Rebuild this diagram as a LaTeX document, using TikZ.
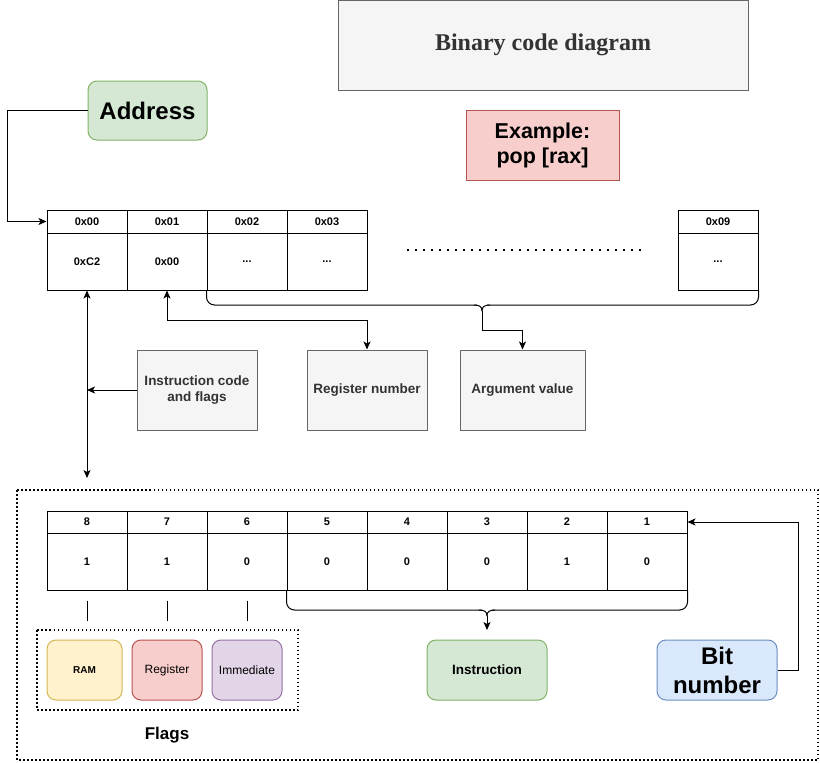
\documentclass[tikz,border=0pt]{standalone}
\usepackage{fontspec}
\setmainfont{Liberation Sans}
\newfontfamily\titlefont{Liberation Serif}
\usetikzlibrary{positioning,arrows.meta}

\definecolor{greyfill}{HTML}{F5F5F5}
\definecolor{greyline}{HTML}{666666}
\definecolor{greytext}{HTML}{333333}
\definecolor{redfill}{HTML}{F8CECC}
\definecolor{redline}{HTML}{B85450}
\definecolor{greenfill}{HTML}{D5E8D4}
\definecolor{greenline}{HTML}{82B366}
\definecolor{yellowfill}{HTML}{FFF2CC}
\definecolor{yellowline}{HTML}{D6B656}
\definecolor{purplefill}{HTML}{E1D5E7}
\definecolor{purpleline}{HTML}{9673A6}
\definecolor{bluefill}{HTML}{DAE8FC}
\definecolor{blueline}{HTML}{6C8EBF}
\newcommand\memdots{...}

\begin{document}
\begin{tikzpicture}[x=1pt, y=-1pt, line width=1pt,
    >={Stealth[length=8pt,width=7pt,inset=2pt]},
    every node/.style={inner sep=0pt, align=center},
    greybox/.style={draw=greyline, fill=greyfill, text=greytext,
      minimum width=120pt, minimum height=80pt,
      font=\bfseries\fontsize{13.5}{16.5}\selectfont},
    cellhead/.style={draw, minimum width=80pt, minimum height=23pt,
      font=\bfseries\fontsize{11}{13}\selectfont},
    cellval/.style={draw, minimum width=80pt, minimum height=57pt,
      font=\bfseries\fontsize{11}{13}\selectfont},
    flagbox/.style={rounded corners=9pt, minimum width=70pt, minimum height=60pt,
      font=\fontsize{12}{14}\selectfont},
    dotbox/.style={line width=1.5pt, dash pattern=on 1.5pt off 2.5pt}]

  \fill[white] (0,0) rectangle (820,763);
  \useasboundingbox (0,0) rectangle (820,763);

  % top
  \node[draw=greyline, fill=greyfill, text=greytext, minimum width=410pt, minimum height=90pt,
    font=\titlefont\bfseries\fontsize{24}{28}\selectfont] (title) at (543,45) {Binary code diagram};
  \node[draw=redline, fill=redfill, minimum width=153pt, minimum height=70pt,
    font=\bfseries\fontsize{21.5}{25}\selectfont] (example) at (542.5,145) {Example:\\pop [rax]};
  \node[draw=greenline, fill=greenfill, rounded corners=9pt, minimum width=119pt, minimum height=59pt,
    font=\bfseries\fontsize{24}{28}\selectfont] (addr) at (147.5,110.5) {Address};

  % memory cells
  \foreach \i/\a/\v in {0/0x00/0xC2, 1/0x01/0x00, 2/0x02/\memdots, 3/0x03/\memdots} {
    \node[cellhead] (a\i) at (87+80*\i,221.5) {\a};
    \node[cellval] (v\i) at (87+80*\i,261.5) {\v};
  }
  \node[cellhead] (a9) at (718,221.5) {0x09};
  \node[cellval] (v9) at (718,261.5) {\memdots};
  \draw[line width=1.6pt, dash pattern=on 1.6pt off 6.4pt] (407,250) -- (645,250);

  \draw[->] (addr.west) -- ++(-80,0) |- (a0.west);

  % brace under the memory
  \coordinate (mtip) at (482,311);
  \draw[rounded corners=8pt] (v2.south west) |- (mtip |- 0,305) -| (v9.south east);
  \draw[white, line width=2pt] (477,305) -- (487,305);
  \draw (474,305) .. controls (480,305) and (482,307) .. (mtip);
  \draw (490,305) .. controls (484,305) and (482,307) .. (mtip);

  % lower boxes
  \node[greybox] (icf) at (197,390) {Instruction code\\and flags};
  \node[greybox] (reg) at (367,390) {Register number};
  \node[greybox, minimum width=125pt] (arg) at (522.5,390) {Argument value};

  \coordinate (bitsup) at (87,478);
  \draw[<->] (v0.south) -- (bitsup);
  \draw[->] (icf.west) -- (icf.west -| v0.south);
  \draw[<->] (v1.south) -- ++(0,30) -| (reg.north);
  \draw[->] (mtip) -- ++(0,19) -| (arg.north);

  % bits
  \draw[dotbox] (17,490) rectangle (818,760);
  \foreach \i/\n/\b in {0/8/1, 1/7/1, 2/6/0, 3/5/0, 4/4/0, 5/3/0, 6/2/1, 7/1/0} {
    \node[cellhead, minimum height=22pt] (bh\n) at (87+80*\i,522) {\n};
    \node[cellval] (bv\n) at (87+80*\i,561.5) {\b};
  }
  \foreach \n in {8,7,6}
    \draw ([yshift=-10pt]bv\n.south) -- ([yshift=-30pt]bv\n.south);

  % flags
  \draw[dotbox] (37,630) rectangle (298,710);
  \node[flagbox, draw=yellowline, fill=yellowfill, minimum width=75pt,
    font=\bfseries\fontsize{10}{12}\selectfont] (ram) at (84.5,670) {RAM};
  \node[flagbox, draw=redline, fill=redfill] (regflag) at (167,670) {Register};
  \node[flagbox, draw=purpleline, fill=purplefill] (immflag) at (247,670) {Immediate};
  \node[font=\bfseries\fontsize{17}{20}\selectfont] (flags) at (167,735) {Flags};

  % brace under the bits
  \coordinate (btip) at (487,616);
  \draw[rounded corners=8pt] (bv5.south west) |- (btip |- 0,610) -| (bv1.south east);
  \draw[white, line width=2pt] (482,610) -- (492,610);
  \draw (479,610) .. controls (485,610) and (487,612) .. (btip);
  \draw (495,610) .. controls (489,610) and (487,612) .. (btip);
  \coordinate (instup) at (487,630);
  \draw[->] (btip) -- (instup);

  \node[flagbox, draw=greenline, fill=greenfill, minimum width=120pt,
    font=\bfseries\fontsize{13.5}{16}\selectfont] (instr) at (487,670) {Instruction};
  \node[flagbox, draw=blueline, fill=bluefill, minimum width=120pt,
    font=\bfseries\fontsize{24}{29}\selectfont] (bitnum) at (717,670) {Bit\\number};
  \draw[->] (bitnum.east) -- ++(21,0) |- (bh1.east);
\end{tikzpicture}
\end{document}
